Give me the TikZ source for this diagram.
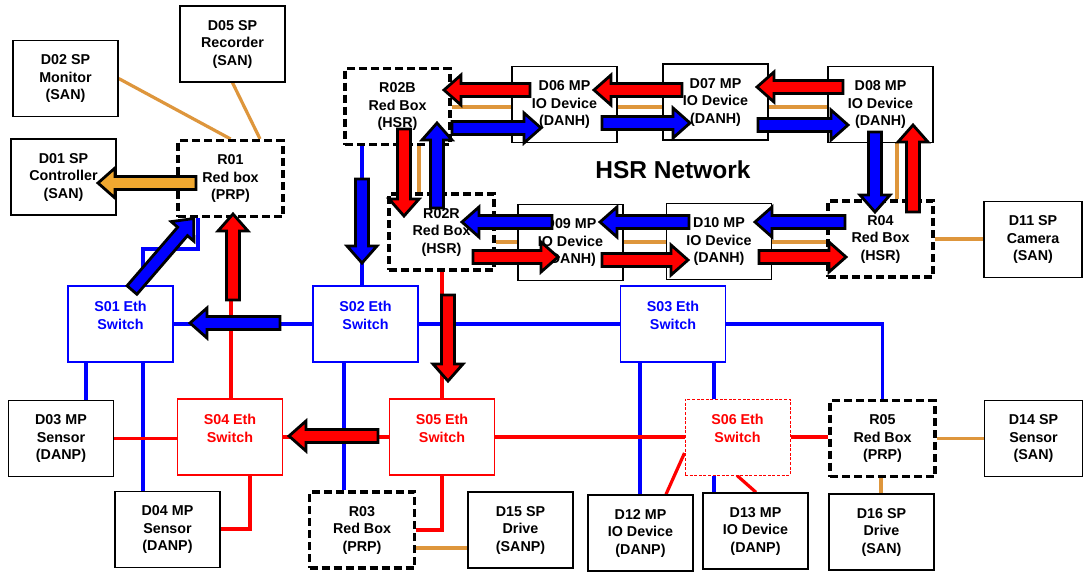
\documentclass[tikz,border=0pt]{standalone}
\usepackage{fontspec}
\setmainfont{Liberation Sans}
\usetikzlibrary{calc}
\definecolor{sanor}{RGB}{222,150,60}
\definecolor{arror}{RGB}{240,168,48}
\definecolor{bl}{RGB}{0,0,255}
\definecolor{rd}{RGB}{255,0,0}
\newcommand\dgmfont{\fontsize{14.3}{17.5}\selectfont\bfseries}
\pgfdeclarelayer{background}
\pgfsetlayers{background,main}
\tikzset{
  dev/.style={draw=black, fill=white, line width=1.4pt, minimum width=105pt, minimum height=76pt,
    align=center, font=\dgmfont, inner sep=0pt},
  redbox/.style={dev, line width=3.2pt, dash pattern=on 8pt off 4pt},
  bsw/.style={dev, draw=bl, text=bl},
  rsw/.style={dev, draw=rd, text=rd},
  rswd/.style={rsw, line width=1pt, dash pattern=on 3pt off 1.6pt},
  sanline/.style={draw=sanor, line width=3.2pt},
  blueline/.style={draw=bl, line width=3.2pt},
  redline/.style={draw=rd, line width=3.2pt},
  fatarrow/.style={draw=black, line width=2.8pt, line join=miter, miter limit=4},
}
\newcommand\fatarr[5]{%
  \pgfmathsetmacro\faAng{atan2(-(#5-#3),#4-#2)}%
  \pgfmathsetmacro\faLen{veclen(#4-#2,#5-#3)-2}%
  \pgfmathsetmacro\faBase{\faLen-17}%
  \begin{scope}[shift={(#2,#3)}, rotate=\faAng]
    \filldraw[fatarrow, fill=#1] (0,-6.5) -- (\faBase,-6.5) -- (\faBase,-15) -- (\faLen,0)
      -- (\faBase,15) -- (\faBase,6.5) -- (0,6.5) -- cycle;
  \end{scope}}
\begin{document}
\begin{tikzpicture}[x=1pt, y=-1pt]
\useasboundingbox (0,0) rectangle (1084,571);
% devices and red boxes
\node[dev] (D05) at (232.5,44) {D05 SP\\Recorder\\(SAN)};
\node[dev] (D02) at (65.5,78.5) {D02 SP\\Monitor\\(SAN)};
\node[dev] (D01) at (63.5,177) {D01 SP\\Controller\\(SAN)};
\node[redbox] (R01) at (230.5,178.5) {R01\\Red box\\(PRP)};
\node[redbox] (R02B) at (397.5,106.5) {R02B\\Red Box\\(HSR)};
\node[dev] (D06) at (564.5,104.5) {D06 MP\\IO Device\\(DANH)};
\node[dev] (D07) at (715.5,102) {D07 MP\\IO Device\\(DANH)};
\node[dev] (D08) at (880.5,104.5) {D08 MP\\IO Device\\(DANH)};
\node[redbox] (R02R) at (441.5,232) {R02R\\Red Box\\(HSR)};
\node[dev] (D09) at (570.5,242.5) {D09 MP\\IO Device\\(DANH)};
\node[dev] (D10) at (719,241.5) {D10 MP\\IO Device\\(DANH)};
\node[redbox] (R04) at (880.5,239) {R04\\Red Box\\(HSR)};
\node[dev, minimum width=98pt] (D11) at (1033,239.5) {D11 SP\\Camera\\(SAN)};
\node[font=\fontsize{24.5}{28}\selectfont\bfseries] (hsr) at (673,170) {HSR Network};
% switches
\node[bsw] (S01) at (120.5,324) {S01 Eth\\Switch\\\mbox{}};
\node[bsw] (S02) at (365.5,324) {S02 Eth\\Switch\\\mbox{}};
\node[bsw] (S03) at (673,324) {S03 Eth\\Switch\\\mbox{}};
\node[rsw] (S04) at (230,437) {S04 Eth\\Switch\\\mbox{}};
\node[rsw] (S05) at (442,437) {S05 Eth\\Switch\\\mbox{}};
\node[rswd] (S06) at (737.5,437) {S06 Eth\\Switch\\\mbox{}};
% lower row
\node[dev] (D03) at (61,438.5) {D03 MP\\Sensor\\(DANP)};
\node[redbox] (R05) at (882.5,438.5) {R05\\Red Box\\(PRP)};
\node[dev, minimum width=98pt] (D14) at (1033.5,438.5) {D14 SP\\Sensor\\(SAN)};
\node[dev] (D04) at (167.5,529.5) {D04 MP\\Sensor\\(DANP)};
\node[redbox] (R03) at (362,530) {R03\\Red Box\\(PRP)};
\node[dev] (D15) at (520.5,530) {D15 SP\\Drive\\(SANP)};
\node[dev] (D12) at (640.5,533) {D12 MP\\IO Device\\(DANP)};
\node[dev] (D13) at (755.5,531) {D13 MP\\IO Device\\(DANP)};
\node[dev] (D16) at (881.5,532) {D16 SP\\Drive\\(SAN)};

\begin{pgfonlayer}{background}
\fill[white] (0,0) rectangle (1084,571);
% SAN (orange) links
\draw[sanline] (D02.east) -- (R01.north);
\draw[sanline] (D05.south) -- (R01.north -| 260,0);
\draw[sanline] (R02B.east |- 0,107) -- (D06.west |- 0,107);
\draw[sanline] (D06.east |- 0,107) -- (D07.west |- 0,107);
\draw[sanline] (D07.east |- 0,107) -- (D08.west |- 0,107);
\draw[sanline] (R02B.south -| 419,0) -- (R02R.north -| 419,0);
\draw[sanline] (R02R.east |- 0,242) -- (D09.west |- 0,242);
\draw[sanline] (D09.east |- 0,242) -- (D10.west |- 0,242);
\draw[sanline] (D10.east |- 0,242) -- (R04.west |- 0,242);
\draw[sanline] (D08.south -| 897,0) -- (R04.north -| 897,0);
\draw[sanline] (R04.east) -- (D11.west |- R04.east);
\draw[sanline] (R05.east) -- (D14.west |- R05.east);
\draw[sanline] (R05.south -| 881,0) -- (D16.north -| 881,0);
\draw[sanline] (R03.east |- 0,548) -- (D15.west |- 0,548);
% blue LAN
\draw[blueline] (S01.east) -- (S02.west);
\draw[blueline] (S02.east) -- (S03.west);
\draw[blueline] (S03.east) -| (R05.north);
\draw[blueline] (S01.south -| 86,0) -- (D03.north -| 86,0);
\draw[blueline] (S01.south -| 143,0) -- (D04.north -| 143,0);
\draw[blueline] (S02.south -| 344,0) -- (R03.north -| 344,0);
\draw[blueline] (S02.north -| 362,0) -- (R02B.south -| 362,0);
\draw[blueline] (R01.south -| 198,0) -- (198,249) -- (143,249) -- (S01.north -| 143,0);
\draw[blueline] (S03.south -| 640,0) -- (D12.north -| 640,0);
\draw[blueline] (S03.south -| 714,0) -- (S06.north -| 714,0);
\draw[blueline] (S06.south -| 714,0) -- (D13.north -| 714,0);
% red LAN
\draw[redline] (R01.south -| 231,0) -- (S04.north -| 231,0);
\draw[redline] (D03.east) -- (S04.west |- D03.east);
\draw[redline] (S04.east) -- (S05.west);
\draw[redline] (S05.east) -- (S06.west);
\draw[redline] (S06.east) -- (R05.west |- S06.east);
\draw[redline] (S04.south -| 250,0) -- (250,529) -- (D04.east |- 0,529);
\draw[redline] (S05.south -| 442,0) -- (442,530) -- (R03.east |- 0,530);
\draw[redline] (R02R.south -| 442,0) -- (S05.north -| 442,0);
\draw[redline] (S06.west |- 0,453) -- (D12.north -| 666,0);
\draw[redline] (S06.south -| 737,0) -- (D13.north -| 756,0);
\end{pgfonlayer}

% fat traffic arrows
\fatarr{arror}{196}{183}{96}{183}
\fatarr{bl}{132}{290}{195}{217}
\fatarr{rd}{233}{300}{233}{212}
\fatarr{bl}{280}{323}{188}{323}
\fatarr{bl}{362}{179}{362}{265}
\fatarr{rd}{404}{129}{404}{218}
\fatarr{bl}{437}{208}{437}{121}
\fatarr{rd}{530}{90}{442}{90}
\fatarr{bl}{452}{128}{543}{128}
\fatarr{rd}{682}{90}{592}{90}
\fatarr{bl}{602}{123}{692}{123}
\fatarr{rd}{843}{87}{755}{87}
\fatarr{bl}{758}{125}{850}{125}
\fatarr{bl}{875}{132}{875}{214}
\fatarr{rd}{913}{212}{913}{123}
\fatarr{bl}{845}{222}{753}{222}
\fatarr{rd}{759}{257}{848}{257}
\fatarr{bl}{689}{222}{598}{222}
\fatarr{rd}{602}{260}{690}{260}
\fatarr{bl}{552}{222}{460}{222}
\fatarr{rd}{473}{257}{560}{257}
\fatarr{rd}{448}{295}{448}{383}
\fatarr{rd}{378}{436}{287}{436}
\end{tikzpicture}
\end{document}
